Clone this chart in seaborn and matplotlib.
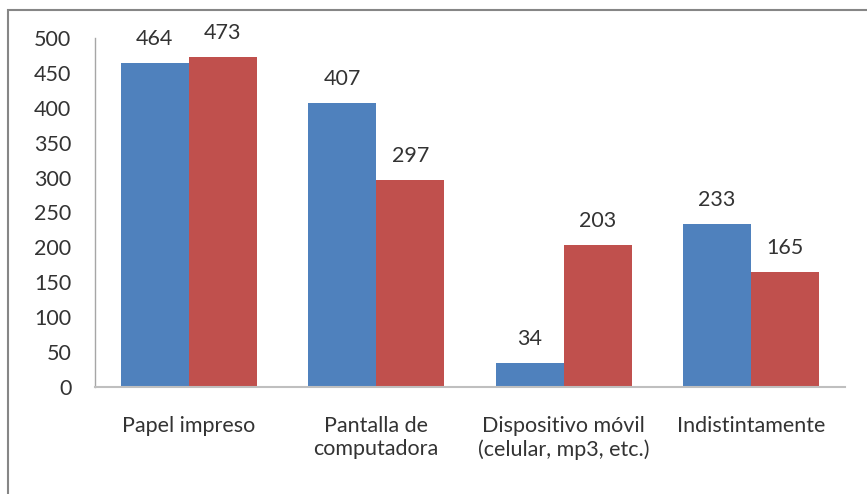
import matplotlib
matplotlib.use("Agg")
import matplotlib.pyplot as plt
import seaborn as sns
import pandas as pd
from matplotlib.patches import Rectangle

categorias = ["Papel impreso", "Pantalla de\ncomputadora",
              "Dispositivo móvil\n(celular, mp3, etc.)", "Indistintamente"]
serie_1 = [464, 407, 34, 233]
serie_2 = [473, 297, 203, 165]
nombres_series = ["Serie 1", "Serie 2"]
colores = ["#4F81BD", "#C0504D"]
ticks_y = [0, 50, 100, 150, 200, 250, 300, 350, 400, 450, 500]

df = pd.DataFrame({
    "categoria": categorias * 2,
    "valor": serie_1 + serie_2,
    "serie": [nombres_series[0]] * len(categorias) + [nombres_series[1]] * len(categorias),
})

sns.set_style("white")
plt.rcParams["font.family"] = ["Lato", "DejaVu Sans"]

texto = "#333333"
fs = 15.5

fig = plt.figure(figsize=(8.67, 4.94), dpi=100)
ax = fig.add_axes([95 / 867, 1 - 387 / 494, 750 / 867, 349 / 494])

sns.barplot(data=df, x="categoria", y="valor", hue="serie", palette=colores,
            width=0.727, saturation=1, legend=False, ax=ax, edgecolor="none")

for cont in ax.containers:
    ax.bar_label(cont, padding=10, fontsize=fs, color=texto)

ax.set_ylim(0, 500)
ax.set_yticks(ticks_y)
ax.set_xlim(-0.5, len(categorias) - 0.5)
ax.set_xlabel("")
ax.set_ylabel("")
ax.tick_params(axis="y", labelsize=fs, labelcolor=texto, length=0, pad=17)
ax.tick_params(axis="x", labelsize=fs, labelcolor=texto, length=0, pad=21)
for lbl in ax.get_xticklabels():
    lbl.set_linespacing(1.2)

for s in ["top", "right"]:
    ax.spines[s].set_visible(False)
ax.spines["left"].set_color("#A6A6A6")
ax.spines["bottom"].set_color("#BFBFBF")
ax.spines["left"].set_linewidth(1.0)
ax.spines["bottom"].set_linewidth(1.5)

# outer chart frame
fig.patches.append(Rectangle((8 / 867, -0.05), 1.2, 1 - 10 / 494 + 0.05,
                             transform=fig.transFigure, fill=False,
                             edgecolor="#868686", linewidth=1.5))

fig.savefig("out.png", dpi=100)
